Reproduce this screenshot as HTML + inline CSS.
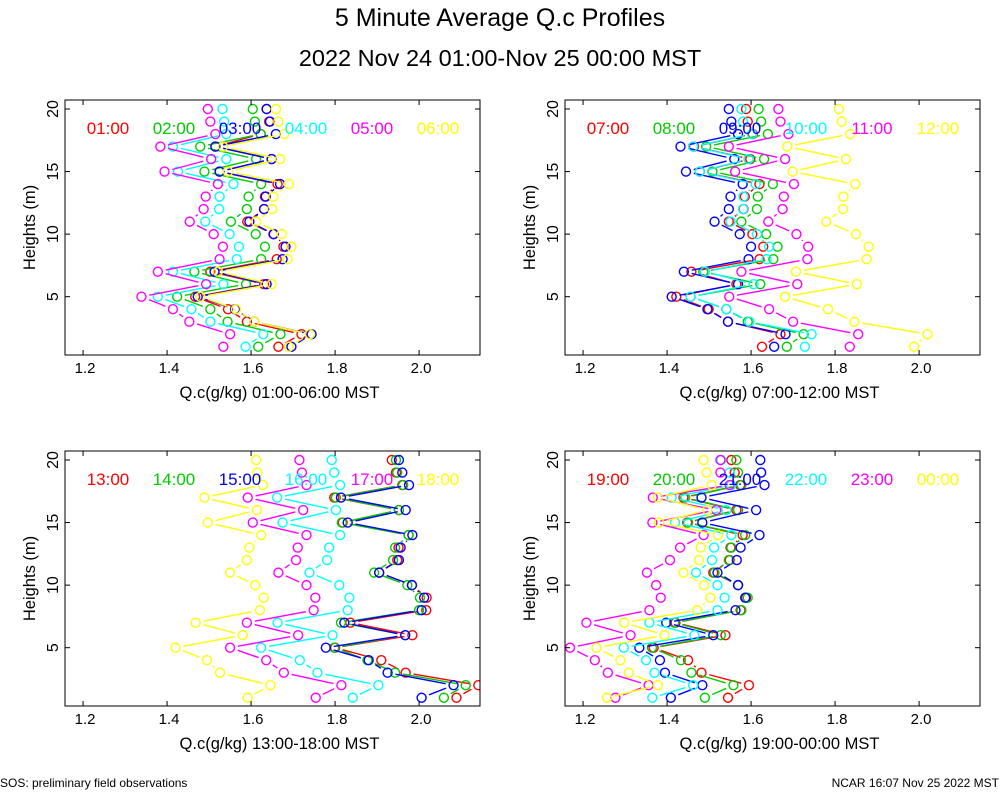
<!DOCTYPE html>
<html><head><meta charset="utf-8"><style>
body{margin:0;background:#fff;font-family:"Liberation Sans",sans-serif}
svg{display:block}
</style></head><body>
<svg id="c" width="1000" height="800" xmlns="http://www.w3.org/2000/svg">
<text x="500" y="26" font-size="25" text-anchor="middle">5 Minute Average Q.c Profiles</text>
<text x="500" y="66" font-size="23.5" text-anchor="middle">2022 Nov 24 01:00-Nov 25 00:00 MST</text>
<text x="0" y="787" font-size="12">SOS: preliminary field observations</text>
<text x="999" y="787" font-size="12" text-anchor="end">NCAR 16:07 Nov 25 2022 MST</text>
</svg>
<script>
const heights=[20,19,18,17,16,15,14,13,12,11,10,9,8,7,6,5,4,3,2,1];
const xTicks=[1.2,1.4,1.6,1.8,2.0];
const yTicks=[5,10,15,20];
const colors=["#ff0000","#00cc00","#0000ff","#00ffff","#ff00ff","#ffff00"];
const p1Labels=["01:00","02:00","03:00","04:00","05:00","06:00"];
const p2Labels=["07:00","08:00","09:00","10:00","11:00","12:00"];
const p3Labels=["13:00","14:00","15:00","16:00","17:00","18:00"];
const p4Labels=["19:00","20:00","21:00","22:00","23:00","00:00"];
const p1Red=[1.637,1.643,1.623,1.515,1.649,1.525,1.663,1.633,1.631,1.591,1.653,1.677,1.661,1.503,1.631,1.467,1.545,1.590,1.720,1.665];
const p1Green=[1.604,1.609,1.623,1.479,1.612,1.489,1.624,1.594,1.590,1.552,1.611,1.633,1.624,1.465,1.588,1.424,1.503,1.544,1.670,1.617];
const p1Blue=[1.637,1.645,1.659,1.515,1.649,1.525,1.669,1.635,1.631,1.596,1.654,1.682,1.675,1.513,1.637,1.473,1.562,1.608,1.744,1.696];
const p1Cyan=[1.532,1.536,1.541,1.414,1.541,1.426,1.558,1.525,1.524,1.491,1.549,1.571,1.566,1.414,1.534,1.378,1.458,1.503,1.629,1.587];
const p1Mag=[1.497,1.503,1.515,1.384,1.505,1.394,1.521,1.492,1.487,1.454,1.511,1.533,1.525,1.378,1.493,1.339,1.414,1.453,1.550,1.534];
const p1Yel=[1.659,1.665,1.679,1.533,1.669,1.545,1.690,1.653,1.650,1.612,1.673,1.696,1.687,1.521,1.649,1.479,1.564,1.608,1.740,1.690];
const p2Red=[1.588,1.592,1.604,1.464,1.598,1.478,1.620,1.585,1.582,1.547,1.603,1.629,1.620,1.458,1.565,1.422,1.499,1.545,1.670,1.626];
const p2Green=[1.618,1.624,1.640,1.493,1.631,1.508,1.652,1.616,1.614,1.577,1.636,1.663,1.653,1.486,1.622,1.456,1.541,1.592,1.725,1.685];
const p2Blue=[1.547,1.553,1.569,1.432,1.560,1.445,1.580,1.551,1.547,1.513,1.573,1.600,1.594,1.440,1.569,1.411,1.496,1.545,1.682,1.655];
const p2Cyan=[1.577,1.581,1.602,1.462,1.594,1.478,1.611,1.582,1.581,1.551,1.614,1.643,1.637,1.490,1.606,1.456,1.541,1.596,1.744,1.728];
const p2Mag=[1.665,1.670,1.689,1.547,1.681,1.562,1.702,1.678,1.675,1.641,1.708,1.736,1.734,1.577,1.710,1.548,1.643,1.700,1.855,1.835];
const p2Yel=[1.809,1.816,1.836,1.686,1.826,1.699,1.848,1.820,1.819,1.779,1.850,1.880,1.875,1.707,1.852,1.681,1.783,1.846,2.020,1.988];
const p3Red=[1.935,1.945,1.960,1.798,1.952,1.818,1.975,1.951,1.948,1.905,1.983,2.018,2.017,1.836,1.984,1.800,1.910,1.968,2.141,2.089];
const p3Green=[1.945,1.948,1.962,1.802,1.952,1.816,1.975,1.943,1.938,1.893,1.972,2.002,2.000,1.814,1.967,1.798,1.877,1.943,2.111,2.059];
const p3Blue=[1.952,1.960,1.976,1.814,1.968,1.830,1.984,1.956,1.952,1.905,1.983,2.012,2.006,1.822,1.967,1.778,1.880,1.925,2.082,2.006];
const p3Cyan=[1.792,1.798,1.812,1.662,1.802,1.675,1.812,1.786,1.781,1.739,1.810,1.834,1.830,1.663,1.794,1.624,1.716,1.758,1.903,1.842];
const p3Mag=[1.715,1.721,1.732,1.592,1.724,1.604,1.732,1.711,1.707,1.665,1.732,1.753,1.749,1.590,1.712,1.550,1.636,1.678,1.815,1.754];
const p3Yel=[1.612,1.615,1.628,1.489,1.614,1.497,1.624,1.596,1.590,1.550,1.610,1.630,1.621,1.468,1.580,1.420,1.495,1.526,1.646,1.592];
const p4Red=[1.553,1.561,1.574,1.439,1.565,1.448,1.580,1.551,1.549,1.510,1.569,1.588,1.575,1.420,1.539,1.368,1.450,1.482,1.595,1.545];
const p4Green=[1.565,1.569,1.577,1.443,1.569,1.450,1.586,1.553,1.547,1.513,1.569,1.592,1.577,1.417,1.528,1.364,1.433,1.458,1.558,1.490];
const p4Blue=[1.622,1.624,1.632,1.482,1.612,1.484,1.620,1.575,1.566,1.520,1.569,1.586,1.563,1.398,1.510,1.334,1.383,1.395,1.484,1.409];
const p4Cyan=[1.529,1.549,1.553,1.411,1.541,1.419,1.553,1.512,1.507,1.469,1.520,1.537,1.520,1.358,1.465,1.297,1.350,1.370,1.462,1.365];
const p4Mag=[1.527,1.527,1.549,1.366,1.517,1.365,1.487,1.431,1.407,1.352,1.374,1.385,1.358,1.208,1.313,1.169,1.228,1.259,1.356,1.277];
const p4Yel=[1.487,1.494,1.506,1.378,1.496,1.381,1.521,1.480,1.476,1.439,1.488,1.503,1.472,1.298,1.394,1.232,1.289,1.309,1.378,1.257];

const NS="http://www.w3.org/2000/svg";
const svg=document.getElementById('c');
function mk(tag,attrs,parent){const e=document.createElementNS(NS,tag);for(const k in attrs)e.setAttribute(k,attrs[k]);(parent||svg).appendChild(e);return e;}
const XMIN=1.157,XMAX=2.145,YMIN=0.34,YMAX=20.72;
const panels=[
 {x:65,y:100,labels:p1Labels,series:[p1Red,p1Green,p1Blue,p1Cyan,p1Mag,p1Yel],title:"Q.c(g/kg) 01:00-06:00 MST"},
 {x:565,y:100,labels:p2Labels,series:[p2Red,p2Green,p2Blue,p2Cyan,p2Mag,p2Yel],title:"Q.c(g/kg) 07:00-12:00 MST"},
 {x:65,y:451,labels:p3Labels,series:[p3Red,p3Green,p3Blue,p3Cyan,p3Mag,p3Yel],title:"Q.c(g/kg) 13:00-18:00 MST"},
 {x:565,y:451,labels:p4Labels,series:[p4Red,p4Green,p4Blue,p4Cyan,p4Mag,p4Yel],title:"Q.c(g/kg) 19:00-00:00 MST"}];
const W=415,H=255,R=4.5;
panels.forEach((p,pi)=>{
 const g=mk('g',{});
 
 
 const sx=v=>p.x+(v-XMIN)/(XMAX-XMIN)*W;
 const sy=v=>p.y+(YMAX-v)/(YMAX-YMIN)*H;
 const cp='clip'+pi;
 const cl=mk('clipPath',{id:cp},g);mk('rect',{x:p.x,y:p.y,width:W,height:H},cl);
 const dg=mk('g',{'clip-path':'url(#'+cp+')'},g);
 p.series.forEach((s,si)=>{
  const sg=mk('g',{},dg);
  
  
  for(let i=0;i<s.length-1;i++){
   let x1=sx(s[i]),y1=sy(heights[i]),x2=sx(s[i+1]),y2=sy(heights[i+1]);
   const dx=x2-x1,dy=y2-y1,L=Math.hypot(dx,dy),c=R+3.5;
   if(L<=2*c+1)continue;
   const l=mk('line',{x1:x1+dx/L*c,y1:y1+dy/L*c,x2:x2-dx/L*c,y2:y2-dy/L*c,stroke:colors[si],'stroke-width':1.4},sg);
   
   
  }
  s.forEach((v,i)=>{
   const c=mk('circle',{cx:sx(v),cy:sy(heights[i]),r:R,fill:'none',stroke:colors[si],'stroke-width':1.4},sg);
   
   
  });
 });
 const fr=mk('rect',{x:p.x,y:p.y,width:W,height:H,fill:'none',stroke:'#000','stroke-width':1},g);
 
 
 xTicks.forEach(t=>{
  const x=sx(t);
  mk('line',{x1:x,y1:p.y+H,x2:x,y2:p.y+H-5,stroke:'#000'},g);
  mk('line',{x1:x,y1:p.y,x2:x,y2:p.y+5,stroke:'#000'},g);
  const tx=mk('text',{x:x+2,y:p.y+H+18,'font-size':15,'text-anchor':'middle'},g);
  tx.textContent=t.toFixed(1);
  
  
 });
 yTicks.forEach(t=>{
  const y=sy(t);
  mk('line',{x1:p.x,y1:y,x2:p.x+5,y2:y,stroke:'#000'},g);
  mk('line',{x1:p.x+W,y1:y,x2:p.x+W-5,y2:y,stroke:'#000'},g);
  const tx=mk('text',{x:p.x-7,y:y,'font-size':16,'text-anchor':'middle',transform:'rotate(-90 '+(p.x-7)+' '+y+')'},g);
  tx.textContent=t;
  
  
 });
 const xt=mk('text',{x:p.x+W/2+7,y:p.y+H+43,'font-size':16.5,'text-anchor':'middle'},g);
 xt.textContent=p.title;
 
 
 const yx=p.x-30,yy=p.y+H/2;
 const yt=mk('text',{x:yx,y:yy,'font-size':16.5,'text-anchor':'middle',transform:'rotate(-90 '+yx+' '+yy+')'},g);
 yt.textContent='Heights (m)';
 
 
 p.labels.forEach((lb,i)=>{
  const t=mk('text',{x:p.x+43+i*66,y:p.y+34,'font-size':17,'text-anchor':'middle',fill:colors[i]},g);
  t.textContent=lb;
  
  
 });
});
</script>
</body></html>
